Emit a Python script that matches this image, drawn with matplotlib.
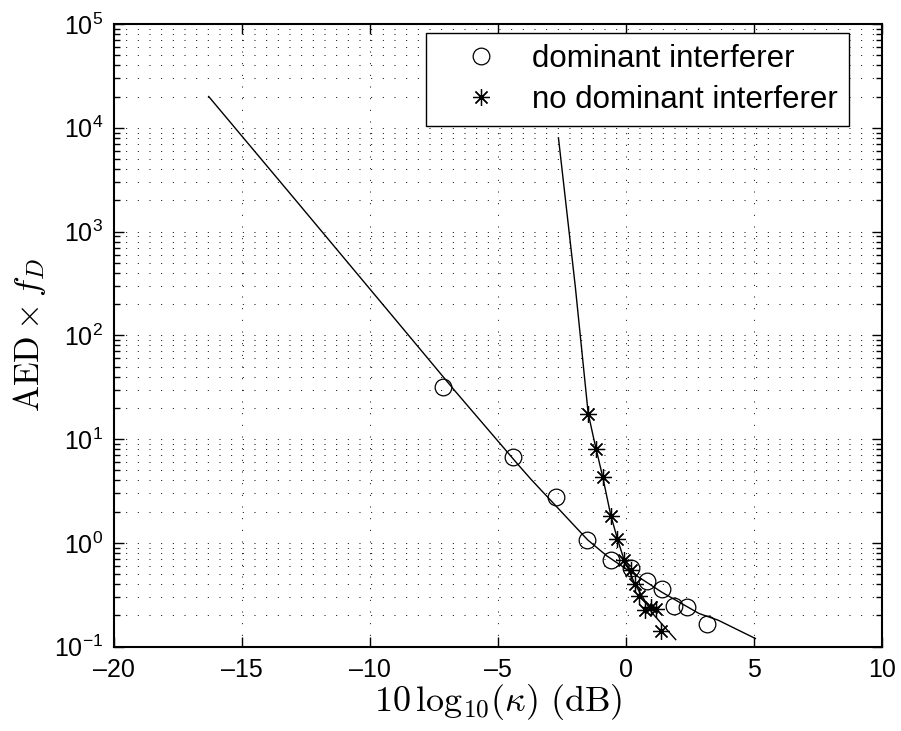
import matplotlib
matplotlib.use("Agg")
import matplotlib.pyplot as plt
from matplotlib.ticker import LogLocator, NullFormatter

plt.rcParams['font.family'] = ['Liberation Sans', 'DejaVu Sans']

# theory curves
dom_line_x = [-16.3, -12.9, -8.9, -6.7, -4.2, -3.7, -1.5, -0.75, 0.0, 1.4, 2.85, 3.6, 5.05]
dom_line_y = [20000, 2000, 132, 29.5, 5.62, 4.07, 1.07, 0.75, 0.562, 0.335, 0.209, 0.180, 0.120]

nodom_line_x = [-2.64, -1.98, -1.48, -1.25, -0.90, -0.60, -0.34, -0.08, 0.35, 1.03, 1.94]
nodom_line_y = [8000, 292, 17.8, 9.8, 4.2, 1.86, 1.10, 0.69, 0.40, 0.21, 0.117]

# simulated points
dom_x = [-7.15, -4.41, -2.75, -1.51, -0.60, 0.18, 0.83, 1.42, 1.88, 2.39, 3.15]
dom_y = [31.8, 6.7, 2.74, 1.06, 0.68, 0.57, 0.43, 0.36, 0.245, 0.24, 0.167]

nodom_x = [-1.48, -1.18, -0.90, -0.60, -0.34, -0.08, 0.18, 0.35, 0.51, 0.74, 0.96, 1.16, 1.36]
nodom_y = [17.6, 8.1, 4.3, 1.8, 1.08, 0.68, 0.55, 0.40, 0.31, 0.225, 0.24, 0.23, 0.142]

xticks = [-20, -15, -10, -5, 0, 5, 10]
xtick_labels = ['\u201320', '\u201315', '\u201310', '\u20135', '0', '5', '10']
yticks = [1e-1, 1e0, 1e1, 1e2, 1e3, 1e4, 1e5]
ytick_labels = [r'$\mathdefault{10^{-1}}$', r'$\mathdefault{10^{0}}$', r'$\mathdefault{10^{1}}$',
                r'$\mathdefault{10^{2}}$', r'$\mathdefault{10^{3}}$', r'$\mathdefault{10^{4}}$',
                r'$\mathdefault{10^{5}}$']

fig = plt.figure(figsize=(9.01, 7.31), dpi=100)
ax = fig.add_axes([0.1265, 0.1153, 0.8525, 0.8519])

ax.semilogy(dom_line_x, dom_line_y, color='k', lw=1.0)
ax.semilogy(nodom_line_x, nodom_line_y, color='k', lw=1.0)
ax.semilogy(dom_x, dom_y, 'o', mfc='none', mec='k', ms=12, mew=0.9,
            label='dominant interferer')
ax.semilogy(nodom_x, nodom_y, ls='none', marker=(8, 2, 0), color='k', ms=12, mew=0.9,
            label='no dominant interferer')

ax.set_xlim(-20, 10)
ax.set_ylim(1e-1, 1e5)
ax.set_xticks(xticks)
ax.set_xticklabels(xtick_labels)
ax.set_yticks(yticks)
ax.set_yticklabels(ytick_labels)
ax.yaxis.set_minor_locator(LogLocator(base=10, subs=range(2, 10), numticks=20))
ax.yaxis.set_minor_formatter(NullFormatter())

ax.tick_params(which='both', direction='in', top=True, right=True, labelsize=18, pad=8)
ax.tick_params(which='major', length=7, width=1)
ax.tick_params(which='minor', length=4, width=1)
for s in ax.spines.values():
    s.set_linewidth(1.5)

# matlab style dotted grid
ax.grid(True, which='major', axis='both', color='k', lw=0.7, ls=(0, (1, 11)))
ax.grid(True, which='minor', axis='y', color='k', lw=0.7, ls=(0, (1, 11)))

ax.set_xlabel(r'$10\,\mathrm{log}_{10}(\kappa)\ (\mathrm{dB})$', fontsize=26,
              math_fontfamily='cm', labelpad=0)
ax.set_ylabel(r'$\mathrm{AED}\times f_D$', fontsize=25, math_fontfamily='cm', labelpad=4)

leg = ax.legend(loc='upper right', bbox_to_anchor=(0.957, 0.986), borderaxespad=0,
                fontsize=22.5, fancybox=False, edgecolor='k', framealpha=1,
                handlelength=2.8, handletextpad=0.25, borderpad=0.35, labelspacing=0.35)
leg.get_frame().set_linewidth(1.0)

fig.savefig('out.png', dpi=100)
